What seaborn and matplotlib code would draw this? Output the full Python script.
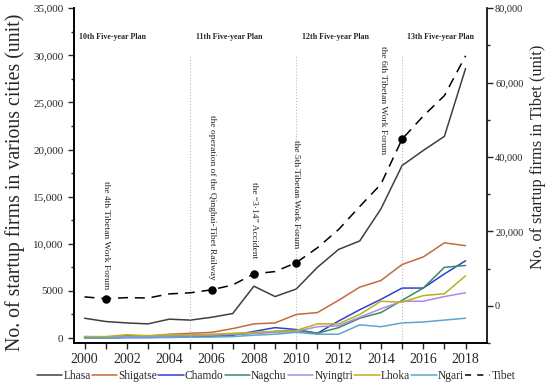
import matplotlib
matplotlib.use("Agg")
import matplotlib.pyplot as plt
import matplotlib.ticker as mticker
from matplotlib.lines import Line2D
import seaborn as sns
import numpy as np
import pandas as pd

years = list(range(2000, 2019))

# startup firms per city (left axis)
lhasa    = [2100, 1750, 1600, 1500, 2000, 1900, 2200, 2600, 5500, 4400, 5200, 7500, 9400, 10300, 13700, 18300, 19900, 21400, 28600]
shigatse = [100, 100, 250, 200, 400, 500, 600, 1000, 1500, 1600, 2500, 2700, 4000, 5400, 6100, 7800, 8600, 10100, 9800]
chamdo   = [0, 0, 50, 50, 100, 150, 200, 300, 700, 1100, 900, 500, 1800, 3000, 4100, 5300, 5300, 6800, 8200]
nagchu   = [150, 100, 200, 150, 200, 250, 300, 350, 500, 700, 800, 500, 1100, 2100, 2700, 4000, 5300, 7500, 7700]
nyingtri = [100, 100, 150, 150, 200, 250, 300, 400, 500, 600, 700, 1200, 1300, 2200, 3100, 3900, 3900, 4400, 4800]
lhoka    = [150, 150, 350, 250, 350, 350, 400, 500, 600, 700, 800, 1500, 1500, 2500, 3900, 3800, 4500, 4700, 6600]
ngari    = [0, 0, 50, 50, 50, 100, 100, 150, 300, 400, 600, 400, 400, 1400, 1200, 1600, 1700, 1900, 2100]

# whole Tibet (right axis)
tibet = [2400, 1900, 2200, 2100, 3200, 3500, 4300, 5600, 8600, 9200, 11600, 15600, 20500, 26700, 32700, 44800, 51000, 56500, 67200]

cities = ["Lhasa", "Shigatse", "Chamdo", "Nagchu", "Nyingtri", "Lhoka", "Ngari"]
colors = ["#3f3f3f", "#c46a3e", "#2f3fd6", "#3d8a5c", "#a98ae6", "#b9b21a", "#5ea6cc"]

events_year  = [2001, 2006, 2008, 2010, 2015]
events_label = ["the 4th Tibetan Work Forum",
                "the operation of the Qinghai-Tibet Railway",
                "the \u201c3\u00b714\u201d Accident",
                "the 5th Tibetan Work Forum",
                "the 6th Tibetan Work Forum"]
plan_start = [2000, 2005, 2010, 2015]
plan_label = ["10th Five-year Plan", "11th Five-year Plan", "12th Five-year Plan", "13th Five-year Plan"]

df = pd.DataFrame({"year": years * len(cities),
                   "firms": lhasa + shigatse + chamdo + nagchu + nyingtri + lhoka + ngari,
                   "city": [c for c in cities for _ in years]})
tb = pd.DataFrame({"year": years, "firms": tibet})

sns.set_style("ticks")
plt.rcParams["font.family"] = ["Liberation Serif", "DejaVu Serif"]

fig = plt.figure(figsize=(5.5, 3.9), dpi=100)
ax = fig.add_axes([0.1345, 0.1205, 0.7505, 0.8585])
ax2 = ax.twinx()

sns.lineplot(data=df, x="year", y="firms", hue="city", palette=dict(zip(cities, colors)),
             linewidth=1.1, ax=ax, legend=False)
sns.lineplot(data=tb, x="year", y="firms", color="black", linewidth=1.1, ax=ax2, legend=False)
ax2.lines[0].set_dashes([6.5, 4.5])

# event markers on the Tibet line
ev_vals = [tibet[years.index(y)] for y in events_year]
ax2.scatter(events_year, ev_vals, s=26, color="black", zorder=5)
offsets = [(0, 2600), (0, 2600), (0, 4200), (0, 4000), (-0.9, -4000)]
for yr, v, lab, (dx, dy) in zip(events_year, ev_vals, events_label, offsets):
    ax2.text(yr + dx, v + dy, lab, rotation=270, ha="center", va="bottom", fontsize=6.8)

# five-year plan boundaries
for yr in plan_start[1:]:
    ax.axvline(yr, ymin=0, ymax=0.86, color="#bbbbbb", linestyle=":", linewidth=0.8)
for yr, lab in zip(plan_start, plan_label):
    ax.text(yr + (0.25 if yr > 2000 else -0.25), 31950, lab, fontsize=5.8, fontweight="bold", ha="left", va="center")

ax.set_xlim(1999.5, 2019)
ax.set_ylim(-530, 35000)
ax2.set_ylim(-10000, 80000)

ax.set_xticks(years)
ax.set_xticklabels([str(y) if y % 2 == 0 else "" for y in years], fontsize=10)
ax.yaxis.set_major_locator(mticker.MultipleLocator(5000))
ax.yaxis.set_minor_locator(mticker.MultipleLocator(2500))
ax.yaxis.set_major_formatter(mticker.FuncFormatter(lambda v, p: f"{int(v):,}" if v >= 10000 else f"{int(v)}"))
ax2.yaxis.set_major_locator(mticker.FixedLocator([0, 20000, 40000, 60000, 80000]))
ax2.yaxis.set_minor_locator(mticker.MultipleLocator(10000))
ax2.yaxis.set_major_formatter(mticker.FuncFormatter(lambda v, p: f"{int(v):,}"))
ax.tick_params(axis="y", labelsize=8, length=4, width=1)
ax.tick_params(axis="y", which="minor", length=2.5, width=1)
ax.tick_params(axis="x", length=4, width=1)
ax2.tick_params(axis="y", labelsize=7.5, length=4, width=1, pad=2)
ax2.tick_params(axis="y", which="minor", length=2.5, width=1)

ax.set_xlabel("")
ax.set_ylabel("No. of startup firms in various cities (unit)", fontsize=14.3, va="center")
ax.yaxis.set_label_coords(-0.143, 0.48)
ax2.set_ylabel("No. of startup firms in Tibet (unit)", fontsize=11.8, rotation=90, va="center")
ax2.yaxis.set_label_coords(1.123, 0.555)

for a in (ax, ax2):
    a.spines["top"].set_visible(False)
    for s in ("left", "right", "bottom"):
        a.spines[s].set_linewidth(1.2)
        a.spines[s].set_color("black")
ax.spines["right"].set_visible(False)

handles = [Line2D([], [], color=c, linewidth=1.1) for c in colors]
handles.append(Line2D([], [], color="black", linewidth=1.1, dashes=[4, 4]))
fig.legend(handles, cities + ["Tibet"], loc="center", bbox_to_anchor=(0.502, 0.035), ncol=8,
           frameon=False, fontsize=8.3, handlelength=2.2, handletextpad=0.1, columnspacing=0.1)

fig.savefig("out.png", dpi=100)
